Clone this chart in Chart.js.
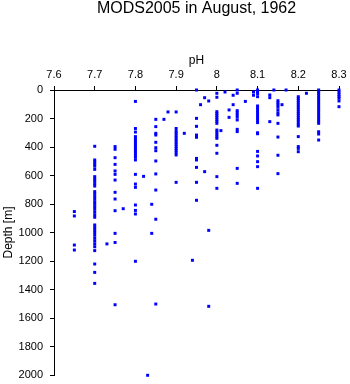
<!DOCTYPE html>
<html>
<head>
<meta charset="utf-8">
<script src="https://cdn.jsdelivr.net/npm/chart.js@4"></script>
<style>
  body { margin: 0; background: #fff; }
</style>
</head>
<body>
<canvas id="chart" width="350" height="384"></canvas>
<script>
// pH of each column of samples, and the depths (m) for each
var phColumns = [7.65, 7.70, 7.73, 7.75, 7.77, 7.80, 7.82, 7.83, 7.84, 7.85, 7.87, 7.88,
  7.90, 7.92, 7.94, 7.95, 7.96, 7.97, 7.98, 8.00, 8.01, 8.02, 8.03, 8.04, 8.05, 8.07,
  8.09, 8.10, 8.13, 8.14, 8.15, 8.16, 8.17, 8.20, 8.22, 8.25, 8.30];

var depthColumns = [
  [853, 884, 1088, 1123],
  [395, 491, 505, 520, 535, 557, 608, 625, 640, 657, 674, 713, 730, 748, 766, 784, 800, 818,
   836, 855, 875, 893, 947, 965, 982, 1000, 1020, 1041, 1060, 1080, 1100, 1127, 1221, 1280, 1357],
  [1080],
  [397, 416, 475, 522, 568, 592, 632, 718, 765, 847, 1006, 1070, 1507],
  [833],
  [80, 270, 295, 327, 340, 355, 370, 386, 397, 412, 427, 442, 457, 472, 491, 592, 660, 683,
   807, 845, 870, 1202],
  [606],
  [2002],
  [802, 1006],
  [206, 257, 304, 316, 367, 405, 426, 498, 589, 702, 907, 1502],
  [206],
  [154],
  [154, 270, 290, 304, 320, 335, 350, 365, 380, 395, 410, 425, 440, 456, 648],
  [304],
  [1195],
  [0, 199, 255, 316, 332, 480, 491, 543, 648, 774],
  [103],
  [54, 573],
  [77, 985, 1518],
  [23, 51, 152, 165, 178, 192, 206, 220, 234, 281, 296, 311, 327, 339, 388, 444, 608, 690],
  [285],
  [14],
  [140, 192],
  [37, 103],
  [0, 23, 145, 160, 175, 190, 210, 276, 292, 550, 655],
  [80],
  [14, 37],
  [0, 12, 25, 47, 112, 125, 140, 155, 170, 185, 200, 215, 229, 300, 307, 431, 463, 503, 538, 690],
  [35, 54, 222],
  [0],
  [75, 90, 105, 120, 140, 160, 175, 234, 330, 458, 587],
  [103],
  [0],
  [47, 60, 75, 90, 105, 120, 135, 150, 165, 180, 195, 210, 225, 241, 253, 327, 397, 410, 433],
  [23],
  [0, 12, 25, 40, 55, 70, 85, 100, 115, 130, 145, 160, 175, 190, 205, 220, 234, 293, 309, 351],
  [0, 15, 30, 45, 58, 77, 117]
];

var phTicks = [7.6, 7.7, 7.8, 7.9, 8.0, 8.1, 8.2, 8.3];
var depthTicks = [0, 200, 400, 600, 800, 1000, 1200, 1400, 1600, 1800, 2000];
var chartTitle = 'MODS2005 in August, 1962';

var points = [];
phColumns.forEach(function(ph, i) {
  depthColumns[i].forEach(function(d) {
    points.push({x: ph, y: d});
  });
});

var font = "'Liberation Sans', Arial, Helvetica, sans-serif";
Chart.defaults.font.family = font;
Chart.defaults.color = '#000';

// title is centred over the plot area, not the canvas
var plotTitle = {
  id: 'plotTitle',
  afterDraw: function(chart) {
    var ctx = chart.ctx, area = chart.chartArea;
    ctx.save();
    ctx.font = '16px ' + font;
    ctx.fillStyle = '#000';
    ctx.textAlign = 'center';
    ctx.textBaseline = 'middle';
    ctx.fillText(chartTitle, (area.left + area.right) / 2, 8.5);
    ctx.restore();
  }
};

var axisGrid = {
  display: true,
  drawOnChartArea: false,
  drawTicks: true,
  tickLength: 4,
  color: '#000'
};

var chart = new Chart('chart', {
  type: 'scatter',
  data: {
    datasets: [{
      data: points,
      backgroundColor: '#0000ff',
      borderWidth: 0,
      pointStyle: 'rect',
      pointRadius: 2.1,
      clip: false
    }]
  },
  options: {
    responsive: false,
    animation: false,
    devicePixelRatio: 1,
    layout: {
      padding: {left: 0, right: 11, top: 16.5, bottom: 9}
    },
    scales: {
      x: {
        type: 'linear',
        position: 'top',
        min: 7.6,
        max: 8.3,
        afterBuildTicks: function(scale) {
          scale.ticks = phTicks.map(function(v) { return {value: v}; });
        },
        afterFit: function(scale) {
          scale.height = 73.5;
          scale.paddingLeft = 0;
          scale.paddingRight = 0;
        },
        ticks: {
          font: {size: 11},
          padding: 4,
          maxRotation: 0,
          callback: function(v) { return String(+v.toFixed(1)); }
        },
        grid: axisGrid,
        border: {display: true, color: '#000', width: 1},
        title: {
          display: true,
          text: 'pH',
          font: {size: 12},
          padding: {top: 37, bottom: 0}
        }
      },
      y: {
        type: 'linear',
        reverse: true,
        min: 0,
        max: 2000,
        afterBuildTicks: function(scale) {
          scale.ticks = depthTicks.map(function(v) { return {value: v}; });
        },
        afterFit: function(scale) {
          scale.width = 54;
          scale.paddingTop = 0;
          scale.paddingBottom = 0;
        },
        ticks: {
          font: {size: 11},
          padding: 7,
          callback: function(v) { return String(v); }
        },
        grid: axisGrid,
        border: {display: true, color: '#000', width: 1},
        title: {
          display: true,
          text: 'Depth [m]',
          font: {size: 12},
          padding: {top: 1, bottom: 0}
        }
      }
    },
    plugins: {
      legend: {display: false},
      tooltip: {enabled: false},
      title: {display: false}
    }
  },
  plugins: [plotTitle]
});
</script>
</body>
</html>
